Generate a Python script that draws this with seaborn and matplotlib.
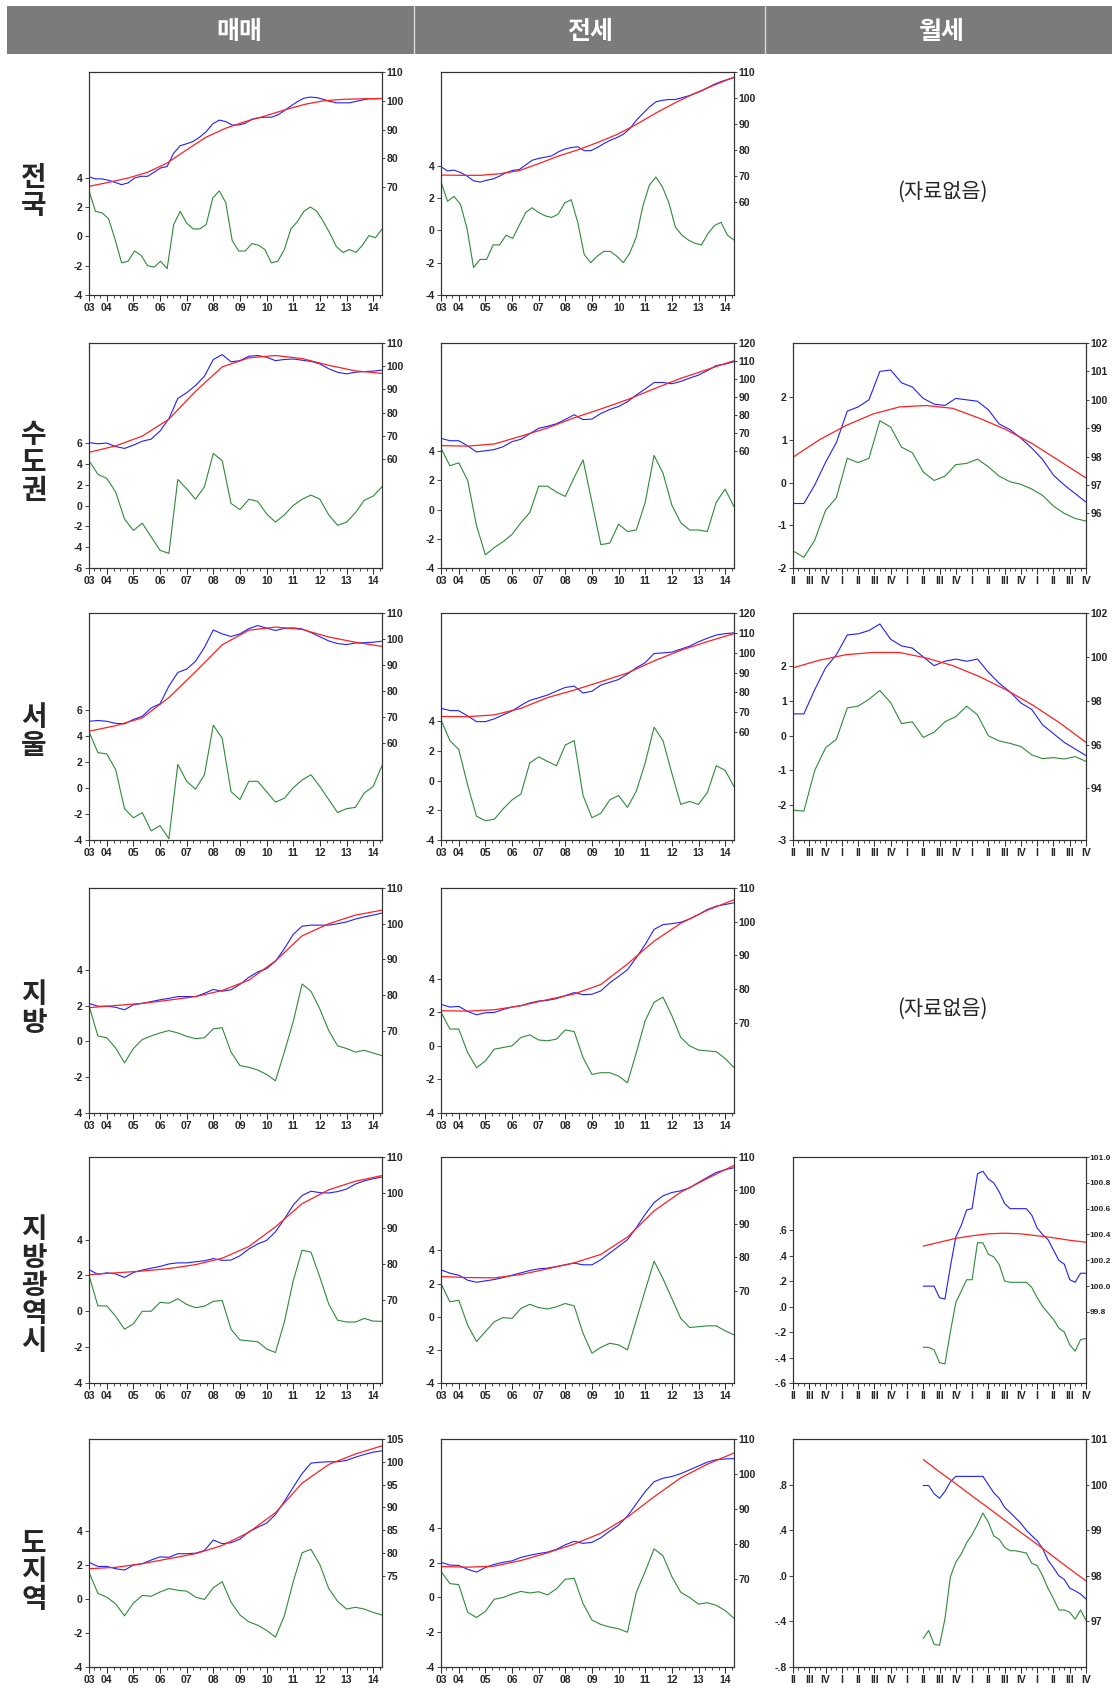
import numpy as np
import matplotlib
matplotlib.use('Agg')
import matplotlib.pyplot as plt
import seaborn as sns
from matplotlib.patches import Rectangle
from matplotlib.lines import Line2D

sns.set_style('white')
plt.rcParams['font.family'] = ['Noto Sans CJK KR', 'DejaVu Sans']

# ---------------- data (green = cycle, left axis; blue = index, red = trend, right axis) ----------------
# 전국
nat_sale_green = [3.1, 1.7, 1.6, 1.2, -0.2, -1.8, -1.7, -1.0, -1.3, -2.0, -2.1, -1.7, -2.2, 0.8, 1.7, 0.9, 0.5, 0.5, 0.8, 2.6,
                  3.1, 2.3, -0.3, -1.0, -1.0, -0.5, -0.6, -0.9, -1.8, -1.7, -0.9, 0.5, 1.0, 1.7, 2.0, 1.7, 1.0, 0.2, -0.7, -1.1,
                  -0.9, -1.1, -0.6, 0.05, -0.1, 0.5]
nat_sale_blue = [73.6, 72.9, 72.9, 72.4, 71.7, 70.9, 71.5, 73.2, 73.8, 73.8, 75.2, 76.7, 77.2, 81.8, 84.4, 85.1, 85.9, 87.4, 89.3, 92.0,
                 93.3, 92.8, 91.6, 91.6, 92.2, 93.6, 94.1, 94.3, 94.3, 95.1, 96.6, 98.2, 99.7, 100.9, 101.3, 101.1, 100.5, 99.8, 99.3, 99.3,
                 99.3, 99.8, 100.3, 100.7, 100.7, 100.8]
nat_sale_red = [70.3, 71.7, 73.2, 75.2, 78.4, 83.0, 87.4, 90.5, 92.8, 94.7, 96.8, 98.7, 100.0, 100.5, 100.7, 100.8]

nat_jeon_green = [3.0, 1.8, 2.1, 1.6, 0.1, -2.3, -1.8, -1.8, -0.9, -0.9, -0.3, -0.5, 0.3, 1.1, 1.4, 1.1, 0.9, 0.8, 1.0, 1.7,
                  1.9, 0.5, -1.5, -2.0, -1.6, -1.3, -1.3, -1.6, -2.0, -1.4, -0.4, 1.5, 2.8, 3.3, 2.7, 1.7, 0.2, -0.3, -0.6, -0.8,
                  -0.9, -0.2, 0.3, 0.5, -0.3, -0.6]
nat_jeon_blue = [73.5, 71.9, 72.2, 71.3, 69.9, 68.1, 67.6, 68.3, 68.8, 69.9, 71.2, 72.1, 72.4, 74.2, 76.0, 76.7, 77.2, 77.7, 79.2, 80.3,
                 80.9, 81.2, 79.7, 79.7, 80.9, 82.4, 83.7, 84.7, 86.0, 88.2, 91.4, 94.0, 96.5, 98.5, 99.1, 99.4, 99.4, 100.1, 100.8, 101.7,
                 102.7, 104.0, 105.3, 106.3, 107.1, 107.8]
nat_jeon_red = [70.3, 70.2, 70.2, 70.8, 72.0, 74.7, 77.6, 80.0, 82.8, 85.9, 89.8, 94.2, 98.2, 101.8, 105.0, 108.0]

# 수도권
cap_sale_green = [4.3, 3.0, 2.6, 1.3, -1.3, -2.4, -1.7, -3.0, -4.3, -4.6, 2.5, 1.6, 0.6, 1.8, 5.0, 4.3, 0.2, -0.4, 0.6, 0.4,
                  -0.8, -1.6, -0.9, 0.0, 0.6, 1.0, 0.6, -0.9, -1.9, -1.6, -0.7, 0.5, 0.9, 1.8]
cap_sale_blue = [67.1, 66.6, 66.9, 65.4, 64.6, 66.0, 67.7, 68.6, 72.1, 77.4, 86.1, 88.6, 91.7, 95.7, 102.9, 105.0, 101.9, 102.4, 104.3, 104.6,
                 103.9, 102.4, 102.9, 103.1, 102.6, 102.1, 101.0, 98.9, 97.4, 96.7, 97.4, 97.7, 97.9, 98.3]
cap_sale_red = [62.9, 65.7, 69.9, 77.2, 89.2, 99.7, 103.6, 104.6, 103.3, 100.4, 98.0, 96.9]

cap_jeon_green = [4.2, 3.0, 3.2, 2.0, -1.1, -3.1, -2.6, -2.2, -1.7, -0.9, -0.2, 1.6, 1.6, 1.2, 0.9, 2.2, 3.4, 0.5, -2.4, -2.3,
                  -1.0, -1.5, -1.4, 0.5, 3.7, 2.5, 0.3, -0.9, -1.4, -1.4, -1.5, 0.5, 1.4, 0.2]
cap_jeon_blue = [67.1, 65.8, 65.8, 63.0, 59.6, 60.2, 60.9, 62.5, 65.3, 66.6, 69.7, 72.7, 73.8, 75.2, 77.6, 80.2, 77.5, 77.8, 80.9, 83.1,
                 84.8, 87.4, 91.2, 94.5, 98.1, 98.1, 97.4, 98.7, 100.5, 102.2, 104.7, 107.5, 108.3, 109.6]
cap_jeon_red = [63.1, 62.8, 64.0, 68.3, 72.9, 78.5, 83.4, 88.6, 94.6, 100.4, 105.3, 110.2]

cap_rent_green = [-1.6, -1.75, -1.35, -0.65, -0.35, 0.57, 0.47, 0.57, 1.45, 1.3, 0.83, 0.7, 0.25, 0.05, 0.15, 0.42, 0.45, 0.55, 0.37, 0.15,
                  0.02, -0.04, -0.15, -0.3, -0.55, -0.72, -0.84, -0.9]
cap_rent_blue = [96.35, 96.35, 97.0, 97.8, 98.5, 99.6, 99.75, 100.0, 101.0, 101.05, 100.6, 100.45, 100.05, 99.85, 99.8, 100.05, 100.0, 99.95, 99.65, 99.15,
                 98.95, 98.65, 98.3, 97.9, 97.35, 97.0, 96.7, 96.4]
cap_rent_red = [97.98, 98.6, 99.1, 99.5, 99.75, 99.8, 99.7, 99.35, 98.95, 98.45, 97.85, 97.25]

# 서울
seo_sale_green = [4.3, 2.7, 2.6, 1.4, -1.6, -2.3, -1.9, -3.3, -2.9, -3.9, 1.8, 0.5, -0.1, 1.0, 4.8, 3.8, -0.3, -0.9, 0.5, 0.5,
                  -0.3, -1.1, -0.8, 0.0, 0.6, 1.0, 0.1, -0.9, -1.9, -1.6, -1.5, -0.4, 0.1, 1.7]
seo_sale_blue = [68.5, 68.8, 68.5, 67.7, 67.5, 69.2, 70.4, 73.6, 75.2, 82.0, 87.2, 88.5, 91.5, 96.8, 103.5, 102.0, 101.0, 102.0, 104.0, 105.2,
                 104.2, 103.3, 104.1, 104.3, 103.9, 102.5, 100.9, 99.3, 98.3, 97.9, 98.5, 98.6, 98.8, 99.2]
seo_sale_red = [64.7, 66.8, 69.8, 77.6, 87.5, 97.8, 103.4, 104.6, 103.7, 100.8, 98.8, 97.2]

seo_jeon_green = [4.1, 2.7, 2.1, -0.3, -2.4, -2.7, -2.6, -1.9, -1.3, -0.9, 1.2, 1.6, 1.3, 1.0, 2.4, 2.7, -1.0, -2.5, -2.2, -1.3,
                  -1.0, -1.8, -0.7, 1.2, 3.6, 2.7, 0.5, -1.6, -1.4, -1.6, -0.8, 1.0, 0.7, -0.4]
seo_jeon_blue = [72.0, 70.9, 70.8, 68.2, 65.3, 65.3, 66.7, 68.7, 70.7, 73.5, 76.0, 77.3, 78.7, 80.7, 82.5, 83.2, 79.7, 80.6, 83.7, 85.1,
                 86.5, 89.3, 92.4, 95.0, 99.6, 99.9, 100.3, 101.8, 103.3, 105.5, 107.3, 108.9, 109.6, 110.0]
seo_jeon_red = [67.9, 67.8, 68.7, 72.0, 77.4, 81.2, 85.4, 89.8, 95.9, 101.2, 105.6, 109.6]

seo_rent_green = [-2.14, -2.17, -1.0, -0.35, -0.1, 0.8, 0.85, 1.05, 1.3, 0.95, 0.35, 0.4, -0.05, 0.1, 0.4, 0.55, 0.85, 0.6, 0.0, -0.15,
                  -0.22, -0.31, -0.55, -0.66, -0.63, -0.67, -0.6, -0.74]
seo_rent_blue = [97.4, 97.4, 98.5, 99.5, 100.1, 101.0, 101.05, 101.2, 101.5, 100.8, 100.5, 100.4, 100.0, 99.6, 99.8, 99.9, 99.8, 99.9, 99.3, 98.8,
                 98.4, 97.9, 97.6, 96.9, 96.5, 96.1, 95.8, 95.5]
seo_rent_red = [99.5, 99.85, 100.1, 100.2, 100.2, 99.95, 99.6, 99.1, 98.5, 97.8, 97.0, 96.1]

# 지방
loc_sale_green = [2.0, 0.3, 0.2, -0.37, -1.2, -0.4, 0.1, 0.3, 0.47, 0.6, 0.47, 0.28, 0.15, 0.2, 0.7, 0.76, -0.6, -1.35, -1.45, -1.6,
                  -1.85, -2.2, -0.6, 1.1, 3.2, 2.8, 1.8, 0.6, -0.25, -0.4, -0.6, -0.5, -0.65, -0.8]
loc_sale_blue = [77.7, 76.9, 76.9, 76.6, 75.9, 77.3, 77.7, 78.2, 78.7, 79.1, 79.6, 79.6, 79.6, 80.5, 81.6, 81.1, 81.5, 83.0, 85.0, 86.5,
                 87.4, 89.5, 93.0, 97.0, 99.3, 99.6, 99.6, 99.6, 100.0, 100.5, 101.3, 101.9, 102.4, 103.0]
loc_sale_red = [76.5, 77.1, 77.7, 78.6, 79.6, 81.3, 84.2, 89.6, 96.6, 100.0, 102.4, 103.8]

loc_jeon_green = [2.0, 1.0, 1.0, -0.4, -1.3, -0.9, -0.2, -0.1, 0.0, 0.5, 0.65, 0.35, 0.3, 0.4, 0.95, 0.85, -0.7, -1.7, -1.6, -1.6,
                  -1.8, -2.2, -0.4, 1.5, 2.6, 2.9, 1.8, 0.5, 0.0, -0.25, -0.3, -0.35, -0.75, -1.3]
loc_jeon_blue = [75.4, 74.6, 74.8, 73.3, 72.3, 72.9, 73.0, 73.9, 74.6, 75.0, 75.8, 76.4, 76.6, 77.1, 78.0, 78.9, 78.3, 78.4, 79.4, 81.8,
                 83.7, 85.7, 89.3, 93.2, 97.7, 99.1, 99.4, 99.8, 100.8, 102.1, 103.6, 104.6, 105.1, 105.6]
loc_jeon_red = [73.5, 73.4, 73.8, 75.0, 76.8, 78.5, 81.3, 87.4, 94.2, 99.5, 103.4, 106.5]

# 지방광역시
met_sale_green = [2.0, 0.3, 0.3, -0.28, -1.0, -0.7, 0.0, 0.0, 0.5, 0.45, 0.7, 0.38, 0.2, 0.28, 0.55, 0.6, -1.0, -1.6, -1.65, -1.7,
                  -2.1, -2.3, -0.6, 1.7, 3.4, 3.3, 1.9, 0.4, -0.5, -0.6, -0.6, -0.4, -0.55, -0.56]
met_sale_blue = [78.4, 77.1, 77.5, 77.2, 76.2, 77.6, 78.3, 78.8, 79.3, 80.0, 80.3, 80.3, 80.6, 80.9, 81.5, 81.0, 81.1, 82.3, 84.2, 85.6,
                 86.6, 89.0, 92.6, 96.5, 99.2, 100.4, 100.0, 99.9, 100.3, 101.0, 102.4, 103.3, 103.9, 104.4]
met_sale_red = [77.0, 77.5, 78.0, 78.7, 79.8, 81.6, 84.9, 90.4, 96.9, 100.8, 103.2, 104.8]

met_jeon_green = [2.0, 0.9, 1.0, -0.5, -1.5, -0.9, -0.3, -0.05, -0.1, 0.5, 0.75, 0.55, 0.47, 0.6, 0.8, 0.65, -1.0, -2.2, -1.85, -1.6,
                  -1.7, -2.0, -0.2, 1.6, 3.35, 2.3, 1.1, -0.1, -0.65, -0.6, -0.55, -0.55, -0.85, -1.1]
met_jeon_blue = [76.3, 75.3, 74.7, 73.2, 72.6, 73.0, 73.4, 74.0, 74.7, 75.4, 76.1, 76.6, 76.8, 77.3, 77.8, 78.3, 77.8, 77.8, 79.3, 81.3,
                 83.3, 85.3, 88.9, 92.9, 96.4, 98.4, 99.4, 99.9, 100.8, 102.4, 103.9, 105.4, 106.2, 106.8]
met_jeon_red = [74.3, 74.0, 73.9, 74.9, 76.6, 78.4, 80.9, 86.1, 93.9, 99.5, 103.6, 107.5]

met_rent_green = [-0.32, -0.32, -0.34, -0.44, -0.45, -0.2, 0.03, 0.12, 0.21, 0.21, 0.5, 0.5, 0.41, 0.39, 0.33, 0.2, 0.19, 0.19, 0.19, 0.19,
                  0.15, 0.07, 0.0, -0.05, -0.1, -0.17, -0.2, -0.3, -0.35, -0.26, -0.25]
met_rent_blue = [100.0, 100.0, 100.0, 99.91, 99.9, 100.15, 100.38, 100.47, 100.59, 100.6, 100.87, 100.89, 100.83, 100.8, 100.73, 100.64,
                 100.6, 100.6, 100.6, 100.6, 100.55, 100.45, 100.4, 100.36, 100.28, 100.2, 100.17, 100.05, 100.03, 100.1, 100.1]
met_rent_red = [100.31, 100.34, 100.37, 100.39, 100.405, 100.41, 100.405, 100.39, 100.375, 100.355, 100.34]

# 도지역
prv_sale_green = [1.56, 0.32, 0.1, -0.3, -1.0, -0.25, 0.2, 0.15, 0.4, 0.6, 0.5, 0.45, 0.1, -0.04, 0.65, 1.0, -0.2, -0.95, -1.35, -1.55,
                  -1.85, -2.25, -1.0, 1.0, 2.7, 2.9, 2.0, 0.6, -0.15, -0.6, -0.5, -0.6, -0.8, -0.95]
prv_sale_blue = [77.9, 77.0, 77.0, 76.5, 76.2, 77.3, 77.6, 78.4, 79.1, 79.0, 79.8, 79.8, 79.9, 80.5, 82.8, 82.0, 82.2, 83.0, 84.6, 85.6,
                 86.5, 88.4, 91.3, 94.4, 97.4, 99.7, 99.9, 100.0, 100.0, 100.3, 101.0, 101.6, 102.1, 102.4]
prv_sale_red = [76.5, 76.8, 77.6, 78.7, 79.8, 81.6, 84.5, 88.8, 95.3, 99.4, 101.7, 103.5]

prv_jeon_green = [1.5, 0.8, 0.74, -0.85, -1.15, -0.8, -0.1, 0.0, 0.2, 0.35, 0.26, 0.33, 0.15, 0.5, 1.05, 1.1, -0.35, -1.3, -1.55, -1.7,
                  -1.8, -2.0, 0.3, 1.5, 2.8, 2.4, 1.2, 0.3, 0.0, -0.38, -0.3, -0.45, -0.75, -1.2]
prv_jeon_blue = [74.8, 74.0, 73.9, 72.8, 72.0, 73.3, 74.2, 74.8, 75.2, 76.2, 76.8, 77.3, 77.7, 78.5, 79.8, 80.8, 80.2, 80.5, 81.8, 83.7,
                 85.4, 88.0, 91.5, 95.0, 97.8, 98.8, 99.3, 100.1, 101.2, 102.3, 103.4, 104.1, 104.3, 104.4]
prv_jeon_red = [73.6, 73.4, 73.7, 75.3, 77.5, 80.0, 83.1, 87.7, 93.5, 98.9, 102.8, 106.0]

prv_rent_green = [-0.55, -0.48, -0.6, -0.61, -0.38, -0.01, 0.12, 0.19, 0.29, 0.36, 0.45, 0.55, 0.47, 0.35, 0.32, 0.25, 0.22, 0.22, 0.21, 0.2,
                  0.11, 0.09, 0.0, -0.11, -0.2, -0.3, -0.3, -0.32, -0.38, -0.3, -0.39]
prv_rent_blue = [99.98, 99.98, 99.8, 99.7, 99.85, 100.06, 100.18, 100.18, 100.18, 100.18, 100.18, 100.18, 100.0, 99.82, 99.7, 99.5,
                 99.39, 99.27, 99.15, 99.0, 98.88, 98.77, 98.6, 98.34, 98.18, 98.0, 97.92, 97.73, 97.67, 97.6, 97.49]
prv_rent_red = [100.55, 100.28, 100.02, 99.75, 99.49, 99.22, 98.95, 98.69, 98.42, 98.15, 97.89]

headers = ['매매', '전세', '월세']
regions = ['전국', '수도권', '서울', '지방', '지방광역시', '도지역']
year_labels = ['03', '04', '05', '06', '07', '08', '09', '10', '11', '12', '13', '14']
quarter_labels = ['II', 'III', 'IV', 'I'] * 4 + ['II', 'III', 'IV']
no_data = '(자료없음)'

# ---------------- layout ----------------
W, H = 1112, 1688
fig = plt.figure(figsize=(W / 100, H / 100), dpi=100)

COL_X = [89, 441, 793]
ROW_Y = [72, 343, 613, 888, 1157, 1439]
ROW_H = [223, 225, 227, 225, 226, 228]
PW = 293

BLUE = '#2020ff'
RED = '#ff2020'
GREEN = '#2e8b3a'
TICK_FAMILY = ['Liberation Sans', 'DejaVu Sans']


def dec(v):
    s = f'{v:.1f}'
    return s.replace('0.', '.', 1) if abs(v) < 1 else s


def draw_panel(row, col, kind, green, blue, red, llim, rlim, lticks, rticks, llab=None, rlab=None, rsize=7.5):
    ax = fig.add_axes([COL_X[col] / W, 1 - (ROW_Y[row] + ROW_H[row]) / H, PW / W, ROW_H[row] / H])
    ax2 = ax.twinx()
    if kind == 'year':
        x0, x1 = 2003.33, 2014.33
        xlim = (x0, x1)
        xt = [2003.33] + list(range(2004, 2015))
        xl = year_labels
        minor = np.arange(2003.5, 2014.34, 0.25)
    else:
        x0, x1 = (0, 54) if kind == 'month' else (24, 54)
        xlim = (0, 54)
        xt = list(range(0, 55, 3))
        xl = quarter_labels
        minor = np.arange(0, 55, 1)

    sns.lineplot(x=np.linspace(x0, x1, len(green)), y=green, ax=ax, color=GREEN, linewidth=0.8)
    sns.lineplot(x=np.linspace(x0, x1, len(blue)), y=blue, ax=ax2, color=BLUE, linewidth=0.8)
    sns.lineplot(x=np.linspace(x0, x1, len(red)), y=red, ax=ax2, color=RED, linewidth=0.9)

    ax.set_xlim(*xlim)
    ax.set_ylim(*llim)
    ax2.set_ylim(*rlim)
    ax.set_xticks(xt)
    ax.set_xticks(minor, minor=True)
    ax.set_xticklabels(xl, family=TICK_FAMILY, weight='bold', size=7.5)
    ax.set_yticks(lticks)
    ax.set_yticklabels(llab if llab else [f'{int(v)}' for v in lticks], family=TICK_FAMILY, weight='bold', size=7.5)
    ax2.set_yticks(rticks)
    ax2.set_yticklabels(rlab if rlab else [f'{int(v)}' for v in rticks], family=TICK_FAMILY, weight='bold', size=rsize)
    ax.tick_params(axis='x', which='major', direction='out', length=4, width=0.7, pad=2, bottom=True)
    ax.tick_params(axis='x', which='minor', direction='out', length=2.5, width=0.6, bottom=True)
    ax.tick_params(axis='y', direction='out', length=3, width=0.6, pad=1.5, left=True)
    ax2.tick_params(axis='y', direction='out', length=2 if rsize < 7 else 2.5, width=0.6,
                    pad=0.5 if rsize < 7 else 1, right=True)
    for a in (ax, ax2):
        a.set_xlabel('')
        a.set_ylabel('')
        for s in a.spines.values():
            s.set_color('#333333')
            s.set_linewidth(0.8)


yr_l4 = [-4, -2, 0, 2, 4]
r70 = [70, 80, 90, 100, 110]

draw_panel(0, 0, 'year', nat_sale_green, nat_sale_blue, nat_sale_red, (-4, 11.2), (32.6, 110), yr_l4, r70)
draw_panel(0, 1, 'year', nat_jeon_green, nat_jeon_blue, nat_jeon_red, (-4, 9.8), (24.1, 110), yr_l4, [60, 70, 80, 90, 100, 110])

draw_panel(1, 0, 'year', cap_sale_green, cap_sale_blue, cap_sale_red, (-6, 15.6), (13.1, 110), [-6, -4, -2, 0, 2, 4, 6], [60, 70, 80, 90, 100, 110])
draw_panel(1, 1, 'year', cap_jeon_green, cap_jeon_blue, cap_jeon_red, (-4, 11.4), (-4.8, 120), yr_l4, [60, 70, 80, 90, 100, 110, 120])
draw_panel(1, 2, 'month', cap_rent_green, cap_rent_blue, cap_rent_red, (-2, 3.27), (94.08, 102), [-2, -1, 0, 1, 2], [96, 97, 98, 99, 100, 101, 102])

draw_panel(2, 0, 'year', seo_sale_green, seo_sale_blue, seo_sale_red, (-4, 13.4), (23, 110), [-4, -2, 0, 2, 4, 6], [60, 70, 80, 90, 100, 110])
draw_panel(2, 1, 'year', seo_jeon_green, seo_jeon_blue, seo_jeon_red, (-4, 11.3), (5.7, 120), yr_l4, [60, 70, 80, 90, 100, 110, 120])
draw_panel(2, 2, 'month', seo_rent_green, seo_rent_blue, seo_rent_red, (-3, 3.53), (91.65, 102), [-3, -2, -1, 0, 1, 2], [94, 96, 98, 100, 102])

draw_panel(3, 0, 'year', loc_sale_green, loc_sale_blue, loc_sale_red, (-4, 8.56), (47.0, 110), yr_l4, r70)
draw_panel(3, 1, 'year', loc_jeon_green, loc_jeon_blue, loc_jeon_red, (-4, 9.4), (43.1, 110), yr_l4, r70)

m_l = [-0.6, -0.4, -0.2, 0.0, 0.2, 0.4, 0.6]
m_r = [99.8, 100.0, 100.2, 100.4, 100.6, 100.8, 101.0]
draw_panel(4, 0, 'year', met_sale_green, met_sale_blue, met_sale_red, (-4, 8.6), (46.6, 110), yr_l4, r70)
draw_panel(4, 1, 'year', met_jeon_green, met_jeon_blue, met_jeon_red, (-4, 9.64), (42.5, 110), yr_l4, r70)
draw_panel(4, 2, 'late', met_rent_green, met_rent_blue, met_rent_red, (-0.6, 1.173), (99.25, 101.0), m_l, m_r,
           [dec(v) for v in m_l], [f'{v:.1f}' for v in m_r], rsize=6)

p_l = [-0.8, -0.4, 0.0, 0.4, 0.8]
draw_panel(5, 0, 'year', prv_sale_green, prv_sale_blue, prv_sale_red, (-4, 9.37), (54.9, 105), yr_l4, [75, 80, 85, 90, 95, 100, 105])
draw_panel(5, 1, 'year', prv_jeon_green, prv_jeon_blue, prv_jeon_red, (-4, 9.12), (44.9, 110), yr_l4, r70)
draw_panel(5, 2, 'late', prv_rent_green, prv_rent_blue, prv_rent_red, (-0.8, 1.2), (96.0, 101), p_l, [97, 98, 99, 100, 101],
           [dec(v) for v in p_l])

# ---------------- header & labels ----------------
fig.patches.append(Rectangle((7 / W, 1 - 54 / H), (W - 7) / W, 48 / H, transform=fig.transFigure,
                             facecolor='#7b7b7b', edgecolor='none', zorder=0))
for xd in (414, 765):
    fig.lines.append(Line2D([xd / W, xd / W], [1 - 54 / H, 1 - 6 / H], transform=fig.transFigure,
                            color='#d8d8d8', linewidth=1))
for xc, t in zip((239, 590, 942), headers):
    fig.text(xc / W, 1 - 32 / H, t, ha='center', va='center', color='white', fontsize=18, fontweight='bold')

for yc, name in zip((192, 463, 732, 1009, 1286, 1572), regions):
    fig.text(34 / W, 1 - yc / H, '\n'.join(name), ha='center', va='center', fontsize=20,
             fontweight='black', linespacing=1.0)

for yc in (192, 1009):
    fig.text(942 / W, 1 - yc / H, no_data, ha='center', va='center', fontsize=15)

fig.savefig('out.png', dpi=100, facecolor='white')
